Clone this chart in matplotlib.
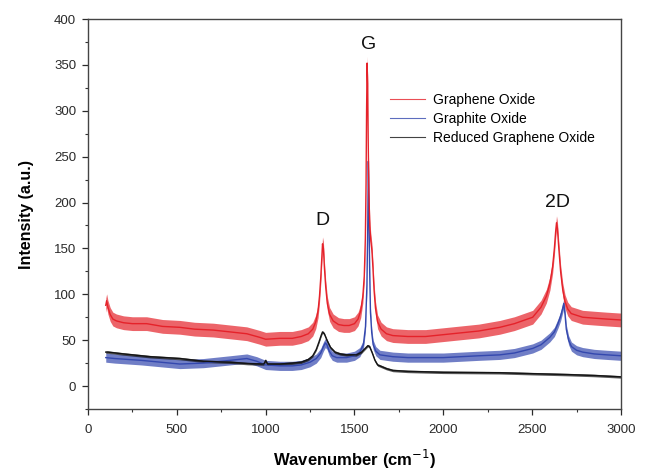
import matplotlib
matplotlib.use("Agg")
import matplotlib.pyplot as plt
from matplotlib.ticker import MultipleLocator
from matplotlib.lines import Line2D

plt.rcParams['font.family'] = ['Liberation Sans', 'DejaVu Sans']

# ---- data ----
go_x = [100, 105, 112, 125, 140, 160, 200, 250, 330, 420, 517, 600, 705, 800, 894, 968, 1000, 1080, 1150,
        1200, 1240, 1265, 1282, 1295, 1303, 1310, 1316, 1320, 1325, 1331, 1338, 1347, 1360, 1380, 1410,
        1440, 1470, 1500, 1520, 1535, 1547, 1555, 1561, 1565, 1568, 1571, 1574, 1577, 1581, 1586, 1592,
        1598, 1604, 1610, 1618, 1630, 1650, 1680, 1716, 1800, 1900, 2000, 2100, 2200, 2318, 2400, 2503,
        2550, 2580, 2600, 2615, 2625, 2632, 2637, 2642, 2650, 2660, 2672, 2685, 2700, 2720, 2784, 2850,
        2920, 3000]
go_y = [88, 93, 86, 78, 73, 71, 69, 68, 68, 65, 64, 62, 61, 59, 57, 53, 51, 52, 52,
        54, 57, 62, 70, 82, 98, 118, 140, 155, 150, 128, 108, 90, 78, 71, 67,
        66, 66, 68, 73, 82, 98, 120, 160, 220, 300, 352, 330, 270, 210, 175, 158,
        148, 128, 105, 85, 70, 62, 57, 55, 54, 54, 56, 58, 60, 64, 68, 75,
        86, 98, 112, 130, 150, 168, 178, 172, 150, 125, 105, 92, 84, 79, 75, 74,
        73, 72]

gox_x = [100, 150, 300, 517, 650, 799, 894, 950, 1000, 1080, 1150, 1200, 1250, 1285, 1310, 1325, 1336,
         1345, 1358, 1375, 1400, 1455, 1500, 1530, 1550, 1562, 1570, 1575, 1578, 1581, 1585, 1590, 1597,
         1605, 1620, 1643, 1716, 1800, 1900, 2000, 2100, 2200, 2318, 2400, 2503, 2550, 2599, 2625, 2645,
         2660, 2672, 2678, 2685, 2692, 2705, 2721, 2750, 2784, 2850, 2920, 3000]
gox_y = [31, 30, 28, 24, 25, 28, 30, 27, 23, 22, 22, 23, 26, 30, 36, 43, 47,
         45, 38, 33, 31, 31, 33, 37, 45, 65, 110, 180, 245, 200, 130, 80, 58,
         45, 38, 34, 32, 31, 31, 31, 32, 33, 34, 36, 41, 45, 53, 59, 68,
         76, 85, 90, 78, 62, 50, 43, 39, 37, 35, 34, 33]

rgo_x = [100, 112, 200, 350, 517, 650, 799, 900, 990, 1000, 1010, 1080, 1150, 1200, 1240, 1265, 1285,
         1300, 1312, 1320, 1330, 1345, 1365, 1390, 1420, 1455, 1510, 1540, 1560, 1575, 1585, 1600, 1615,
         1630, 1643, 1680, 1716, 1800, 1900, 2000, 2318, 2500, 2700, 2850, 3000]
rgo_y = [37, 37, 35, 32, 30, 27, 26, 24.5, 24, 28, 24, 24, 25, 26, 29, 33, 40,
         48, 55, 59, 57, 50, 42, 37, 35, 34, 34, 37, 41, 44, 43, 36, 28,
         23, 22, 19, 17, 16, 15.5, 15, 14.5, 13.5, 12.5, 11.5, 10]

labels = ["Graphene Oxide", "Graphite Oxide", "Reduced Graphene Oxide"]
x_ticks = [0, 500, 1000, 1500, 2000, 2500, 3000]
y_ticks = [0, 50, 100, 150, 200, 250, 300, 350, 400]
peaks = [("D", 1322, 180), ("G", 1580, 372), ("2D", 2640, 200)]

# ---- styles ----
c_red = "#e5222a"
c_blue = "#3448ae"
c_black = "#141414"

fig = plt.figure(figsize=(6.46, 4.72), dpi=100)
ax = fig.add_axes([0.1362, 0.1335, 0.8251, 0.8262])

series = [(gox_x, gox_y, c_blue, 5.0), (rgo_x, rgo_y, c_black, 1.4), (go_x, go_y, c_red, 7.5)]
for xs, ys, col, h in series:
    lo = [v - h for v in ys]
    hi = [v + h for v in ys]
    ax.fill_between(xs, lo, hi, color=col, alpha=0.7, linewidth=0)
    ax.plot(xs, ys, color=col, lw=1.0)

ax.set_xlim(0, 3000)
ax.set_ylim(-25, 400)
ax.set_xticks(x_ticks)
ax.set_yticks(y_ticks)
ax.xaxis.set_minor_locator(MultipleLocator(250))
ax.yaxis.set_minor_locator(MultipleLocator(25))
ax.tick_params(which='major', direction='out', length=4.5, width=0.9, labelsize=9.5,
               colors='#2a2a2a', top=False, right=False)
ax.tick_params(axis='x', which='major', pad=6)
ax.tick_params(axis='y', which='major', pad=4)
ax.tick_params(which='minor', direction='out', length=2.5, width=0.8, colors='#333333',
               top=False, right=False)
for sp in ax.spines.values():
    sp.set_color('#444444')
    sp.set_linewidth(1.0)

ax.set_xlabel("Wavenumber (cm$^{-1}$)", fontsize=12, fontweight='bold', labelpad=9)
ax.set_ylabel("Intensity (a.u.)", fontsize=11.5, fontweight='bold', labelpad=14)

for txt, px, py in peaks:
    ax.text(px, py, txt, fontsize=14, ha='center', va='center', color='#111111')

handles = [Line2D([], [], color=c, lw=0.8, alpha=0.8) for c in (c_red, c_blue, c_black)]
ax.legend(handles, labels, loc='upper left', bbox_to_anchor=(0.567, 0.81), frameon=False,
          fontsize=10, handlelength=2.5, handletextpad=0.6, labelspacing=0.35,
          borderpad=0, borderaxespad=0)

fig.savefig("out.png", dpi=100, facecolor='white')
